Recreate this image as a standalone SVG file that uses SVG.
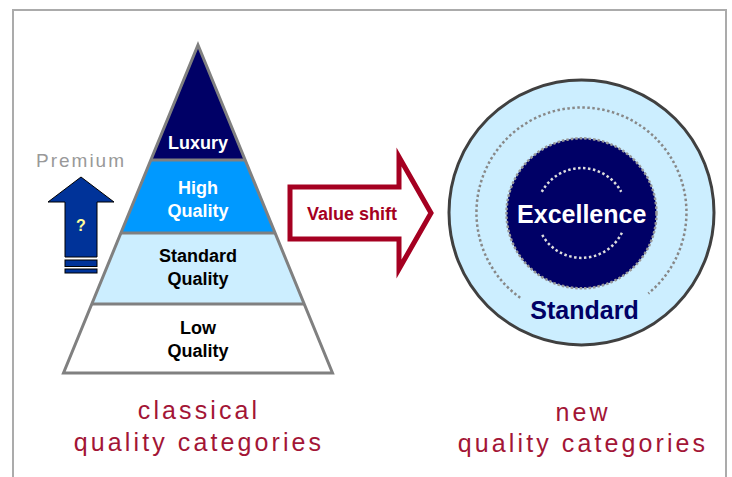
<svg xmlns="http://www.w3.org/2000/svg" width="732" height="477" viewBox="0 0 732 477">
<style>
.frame{fill:none;stroke:#ababab;stroke-width:2}
.pyr{stroke:#808080;stroke-width:3;stroke-linejoin:miter}
.lbl{font-family:"Liberation Sans",Arial,sans-serif;font-weight:bold;font-size:18px;text-anchor:middle}
.cap{font-family:"Liberation Sans",Arial,sans-serif;font-size:25px;letter-spacing:3.1px;fill:#a31536;text-anchor:middle}
.dots{fill:none;stroke-linecap:butt}
</style>
<rect width="732" height="477" fill="#fff"/>
<path class="frame" d="M13,477 V10 H726 V477"/>

<g id="pyramid">
  <polygon points="198,45 245.2,160 150.8,160" fill="#000066"/>
  <polygon points="150.8,160 245.2,160 275.1,233 120.9,233" fill="#0099ff"/>
  <polygon points="120.9,233 275.1,233 304.2,304 91.8,304" fill="#cceeff"/>
  <polygon points="91.8,304 304.2,304 332.5,373 63.5,373" fill="#ffffff"/>
  <g class="pyr" fill="none">
    <line x1="150.8" y1="160" x2="245.2" y2="160"/>
    <line x1="120.9" y1="233" x2="275.1" y2="233"/>
    <line x1="91.8" y1="304" x2="304.2" y2="304"/>
    <polygon points="198,45 332.5,373 63.5,373"/>
  </g>
</g>
<g id="luxury"><text class="lbl" x="198" y="149" fill="#fff">Luxury</text></g>
<g id="high-quality"><text class="lbl" x="198" y="194" fill="#fff">High</text><text class="lbl" x="198" y="216.5" fill="#fff">Quality</text></g>
<g id="standard-quality"><text class="lbl" x="198" y="262" fill="#000">Standard</text><text class="lbl" x="198" y="285" fill="#000">Quality</text></g>
<g id="low-quality"><text class="lbl" x="198" y="334" fill="#000">Low</text><text class="lbl" x="198" y="356.5" fill="#000">Quality</text></g>

<g id="premium">
  <text x="81" y="167" font-family="'Liberation Sans',Arial,sans-serif" font-size="19" letter-spacing="2" fill="#999999" text-anchor="middle">Premium</text>
  <polygon points="81,177 114,202 97,202 97,257 65,257 65,202 48,202" fill="#003399" stroke="#000" stroke-width="1"/>
  <rect x="65" y="260" width="32" height="6.5" fill="#003399" stroke="#000" stroke-width="1"/>
  <rect x="65" y="269" width="32" height="4" fill="#003399" stroke="#000" stroke-width="1"/>
  <text x="81" y="231" font-family="'Liberation Sans',Arial,sans-serif" font-weight="bold" font-size="16" fill="#ffff99" text-anchor="middle">?</text>
</g>

<g id="connectors">
  <polygon points="290,187 399,187 399,157 431,213 399,269 399,239 290,239" fill="#fff" stroke="#a50021" stroke-width="5"/>
  <text x="352" y="220" font-family="'Liberation Sans',Arial,sans-serif" font-weight="bold" font-size="18" fill="#a50021" text-anchor="middle">Value shift</text>
</g>

<g id="standard">
  <circle cx="581.5" cy="212.5" r="132.5" fill="#cceeff" stroke="#404040" stroke-width="3"/>
  <path class="dots" d="M520.2,297.8 A105,105 0 1 1 648.3,293.5" stroke="#888888" stroke-width="2.5" stroke-dasharray="2.5 2.5"/>
  <text x="584.5" y="318.5" font-family="'Liberation Sans',Arial,sans-serif" font-weight="bold" font-size="25" fill="#000066" text-anchor="middle">Standard</text>
</g>
<g id="excellence">
  <circle cx="581.5" cy="213.3" r="75" fill="#000066" stroke="#999999" stroke-width="2.5" stroke-dasharray="2.5 2"/>
  <path class="dots" d="M541.8,191.9 A45,45 0 0 1 621.2,191.9" stroke="#dddddd" stroke-width="2.5" stroke-dasharray="2.5 2.5"/>
  <path class="dots" d="M621.9,232.7 A45,45 0 0 1 541.1,232.7" stroke="#dddddd" stroke-width="2.5" stroke-dasharray="2.5 2.5"/>
  <text x="581.7" y="222.7" font-family="'Liberation Sans',Arial,sans-serif" font-weight="bold" font-size="25" fill="#ffffff" text-anchor="middle">Excellence</text>
</g>

<g id="caption-left">
  <text class="cap" x="199" y="419">classical</text>
  <text class="cap" x="199" y="451">quality categories</text>
</g>
<g id="caption-right">
  <text class="cap" x="583" y="421">new</text>
  <text class="cap" x="583" y="452">quality categories</text>
</g>
</svg>
